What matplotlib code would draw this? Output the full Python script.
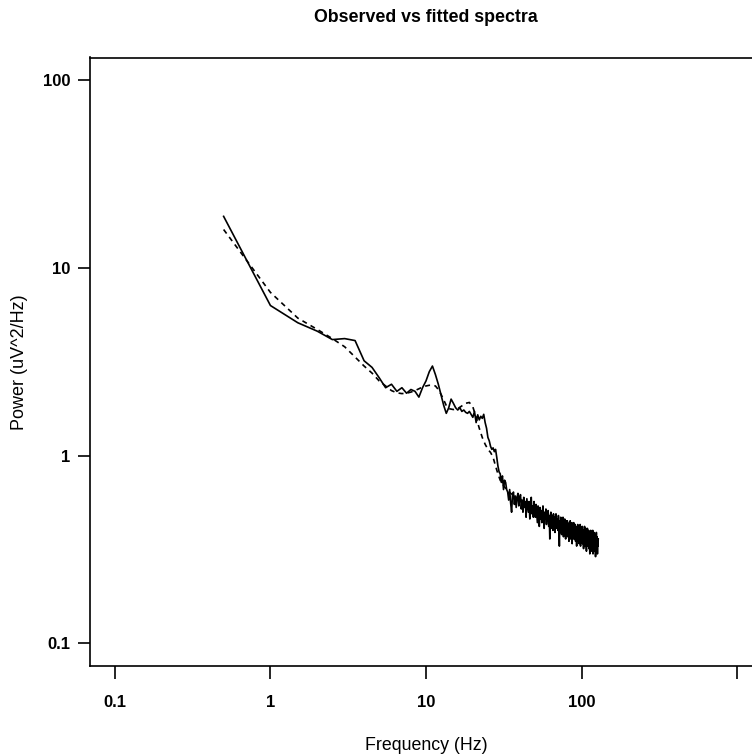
import numpy as np
import matplotlib
matplotlib.use("Agg")
import matplotlib.pyplot as plt

plt.rcParams["font.family"] = ["Liberation Sans", "DejaVu Sans"]

# observed power spectrum, 0.5 Hz bins from 0.5 to 128 Hz
observed_power = [
    18.8, 6.3, 5.1, 4.6, 4.15, 4.2, 4.1, 3.2, 2.95, 2.6,      # 0.5 - 5
    2.3, 2.4, 2.2, 2.3, 2.15, 2.25, 2.2, 2.05, 2.3, 2.5,      # 5.5 - 10
    2.8, 3.0, 2.7, 2.4, 2.1, 1.85, 1.68, 1.8, 2.0, 1.9,       # 10.5 - 15
    1.8, 1.75, 1.8, 1.72, 1.75, 1.7, 1.68, 1.72, 1.66, 1.6,   # 15.5 - 20
    1.72, 1.5, 1.65, 1.55, 1.62, 1.58, 1.66, 1.5, 1.4, 1.25,  # 20.5 - 25
    1.2, 1.12, 1.08, 1.1, 1.05, 1.08, 0.98, 0.88, 0.82, 0.8,  # 25.5 - 30
    0.72, 0.78, 0.66, 0.74, 0.72, 0.66, 0.64, 0.58, 0.66, 0.56,  # 30.5 - 35
    0.5, 0.62, 0.64, 0.55, 0.61, 0.53, 0.6, 0.63, 0.54, 0.59,    # 35.5 - 40
    0.62, 0.52, 0.58, 0.5, 0.6, 0.53, 0.57, 0.47, 0.59, 0.54,    # 40.5 - 45
    0.5, 0.57, 0.46, 0.55, 0.6, 0.49, 0.54, 0.47, 0.57, 0.51,    # 45.5 - 50
    0.47, 0.55, 0.49, 0.44, 0.54, 0.5, 0.42, 0.53, 0.46, 0.51,   # 50.5 - 55
    0.44, 0.5, 0.54, 0.45, 0.41, 0.5, 0.46, 0.52, 0.43, 0.49,    # 55.5 - 60
    0.45, 0.51, 0.42, 0.48, 0.36, 0.47, 0.5, 0.41, 0.48, 0.44,   # 60.5 - 65
    0.4, 0.49, 0.43, 0.47, 0.39, 0.46, 0.49, 0.41, 0.46, 0.43,   # 65.5 - 70
    0.4, 0.48, 0.42, 0.33, 0.45, 0.39, 0.47, 0.42, 0.38, 0.46,   # 70.5 - 75
    0.41, 0.47, 0.37, 0.44, 0.4, 0.46, 0.41, 0.36, 0.45, 0.4,    # 75.5 - 80
    0.38, 0.45, 0.37, 0.43, 0.4, 0.35, 0.44, 0.39, 0.45, 0.36,   # 80.5 - 85
    0.4, 0.37, 0.44, 0.34, 0.42, 0.39, 0.36, 0.44, 0.38, 0.41,   # 85.5 - 90
    0.36, 0.43, 0.35, 0.41, 0.38, 0.33, 0.42, 0.37, 0.43, 0.35,  # 90.5 - 95
    0.38, 0.42, 0.34, 0.4, 0.37, 0.43, 0.33, 0.4, 0.37, 0.41,    # 95.5 - 100
    0.35, 0.42, 0.34, 0.39, 0.4, 0.32, 0.39, 0.36, 0.42, 0.33,   # 100.5 - 105
    0.37, 0.35, 0.41, 0.36, 0.31, 0.4, 0.34, 0.41, 0.33, 0.38,   # 105.5 - 110
    0.35, 0.4, 0.32, 0.38, 0.35, 0.3, 0.39, 0.33, 0.4, 0.32,     # 110.5 - 115
    0.36, 0.39, 0.31, 0.37, 0.34, 0.4, 0.3, 0.37, 0.34, 0.39,    # 115.5 - 120
    0.32, 0.38, 0.31, 0.37, 0.34, 0.29, 0.37, 0.33, 0.39, 0.31,  # 120.5 - 125
    0.35, 0.37, 0.3, 0.36, 0.33, 0.36,                           # 125.5 - 128
]
observed_freq = 0.5 * np.arange(1, len(observed_power) + 1)

# fitted model spectrum
fitted_freq = [
    0.5, 1.0, 1.5, 2.0, 2.5, 3.0, 3.5, 4.0, 4.5, 5.0,
    5.5, 6.0, 6.5, 7.0, 7.5, 8.0, 8.5, 9.0, 9.5, 10.0,
    10.5, 11.0, 11.5, 12.0, 12.5, 13.0, 13.5, 14.0, 15.0, 16.0,
    17.0, 18.0, 19.0, 20.0, 21.0, 22.0, 23.0, 24.0, 25.0, 26.0,
    27.0, 28.0, 29.0, 30.0, 32.0, 35.0, 40.0, 45.0, 50.0, 60.0,
    70.0, 80.0, 90.0, 100.0, 110.0, 120.0, 128.0,
]
fitted_power = [
    16.0, 7.4, 5.4, 4.7, 4.2, 3.8, 3.35, 3.0, 2.75, 2.5,
    2.35, 2.22, 2.16, 2.14, 2.15, 2.18, 2.22, 2.27, 2.32, 2.35,
    2.37, 2.37, 2.35, 2.25, 2.12, 1.98, 1.85, 1.78, 1.76, 1.78,
    1.84, 1.9, 1.92, 1.82, 1.6, 1.4, 1.25, 1.15, 1.08, 1.04,
    0.98, 0.88, 0.8, 0.74, 0.68, 0.63, 0.59, 0.55, 0.52, 0.47,
    0.44, 0.41, 0.39, 0.37, 0.35, 0.33, 0.30,
]

x_ticks = [0.1, 1, 10, 100, 1000]
x_tick_labels = ["0.1", "1", "10", "100", ""]
y_ticks = [0.1, 1, 10, 100]
y_tick_labels = ["0.1", "1", "10", "100"]

W, H = 752, 756
fig = plt.figure(figsize=(W / 100, H / 100), dpi=100)
# plot region runs a bit past the right edge of the page
ax = fig.add_axes([90 / W, 1 - 666 / H, 672 / W, 608.5 / H])

ax.plot(observed_freq, observed_power, color="black", lw=1.2)
ax.plot(fitted_freq, fitted_power, color="black", lw=1.2, dashes=(3, 2.6))

ax.set_xscale("log")
ax.set_yscale("log")
# 4% padding on each side of the log range
ax.set_xlim(10 ** -1.16, 10 ** 3.16)
ax.set_ylim(10 ** -1.12, 10 ** 2.12)

ax.set_xticks(x_ticks, x_tick_labels)
ax.set_yticks(y_ticks, y_tick_labels)
ax.minorticks_off()
ax.tick_params(direction="out", length=9, width=1.2, pad=12,
               labelsize=12)
ax.tick_params(axis="y", pad=5)
for lab in ax.get_xticklabels() + ax.get_yticklabels():
    lab.set_fontweight("bold")
for sp in ax.spines.values():
    sp.set_linewidth(1.2)

fig.text(426 / W, 1 - 17 / H, "Observed vs fitted spectra",
         ha="center", va="center", fontsize=12.8, fontweight="bold")
fig.text(426 / W, 1 - 745 / H, "Frequency (Hz)",
         ha="center", va="center", fontsize=12.8)
fig.text(20 / W, 1 - 362 / H, "Power (uV^2/Hz)", rotation=90,
         ha="center", va="center", fontsize=13)

fig.savefig("out.png", dpi=100)
